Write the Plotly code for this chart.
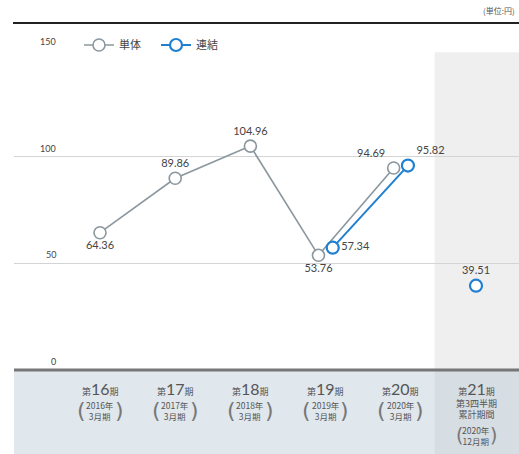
import plotly.graph_objects as go

# ---- data ----
periods = ["16", "17", "18", "19", "20", "21"]
years = ["2016年", "2017年", "2018年", "2019年", "2020年", "2020年"]
months = ["3月期", "3月期", "3月期", "3月期", "3月期", "12月期"]
extra_lines = [[], [], [], [], [], ["第3四半期", "累計期間"]]
single = [64.36, 89.86, 104.96, 53.76, 94.69, None]
consolidated = [None, None, None, 57.34, 95.82, None]
consolidated_q3 = [None, None, None, None, None, 39.51]
y_ticks = [0, 50, 100, 150]
series_names = ["単体", "連結"]
unit_label = "(単位:円)"

W, H = 519, 454
L, R, T, B = 14, 0, 50, 84
PW, PH = W - L - R, H - T - B
x0_px, step_px = 100, 75.2
xmin = -(x0_px - L) / step_px
xmax = xmin + PW / step_px
ymin, ymax = 0, 150

def py(p):  # pixel y -> paper
    return (H - B - p) / PH

def px(p):  # pixel x -> paper
    return (p - L) / PW

off = 0.095
xs_single, xs_cons = [], []
for i in range(len(periods)):
    both = single[i] is not None and consolidated[i] is not None
    xs_single.append(i - off if both else i)
    xs_cons.append(i + off if both else i)

FONT = "Lato, 'Noto Sans CJK JP', sans-serif"
JP = "'Noto Sans CJK JP', Lato, sans-serif"
gray = "#8b979e"
blue = "#1f7fd1"

def fmt(vals):
    return [f"{v:.2f}" if v is not None else "" for v in vals]

fig = go.Figure()
fig.add_trace(go.Scatter(
    x=xs_single, y=single, name=series_names[0], mode="lines+markers+text",
    line=dict(color=gray, width=1.6),
    marker=dict(size=12, color="white", line=dict(color=gray, width=1.6)),
    text=fmt(single),
    textposition=["bottom center", "top center", "top center", "bottom center", "top left", "top center"],
    textfont=dict(size=11, color="#444", family=FONT),
    cliponaxis=False, connectgaps=False,
))
fig.add_trace(go.Scatter(
    x=xs_cons, y=consolidated, name=series_names[1], mode="lines+markers+text",
    line=dict(color=blue, width=2),
    marker=dict(size=12, color="white", line=dict(color=blue, width=2.2)),
    text=fmt(consolidated),
    textposition=["top center", "top center", "top center", "middle right", "top right", "top center"],
    textfont=dict(size=11, color="#444", family=FONT),
    cliponaxis=False, connectgaps=False,
))
fig.add_trace(go.Scatter(
    x=xs_cons, y=consolidated_q3, name=series_names[1], mode="markers+text", showlegend=False,
    marker=dict(size=12, color="white", line=dict(color=blue, width=2.2)),
    text=fmt(consolidated_q3), textposition="top center",
    textfont=dict(size=11, color="#444", family=FONT),
    cliponaxis=False,
))

shapes = []
shapes.append(dict(type="rect", xref="x", yref="y", x0=4.45, x1=xmax, y0=0, y1=149,
                   fillcolor="#efefef", line=dict(width=0), layer="below"))
shapes.append(dict(type="rect", xref="paper", yref="paper", x0=0, x1=1, y0=py(454), y1=0,
                   fillcolor="#e0e7ed", line=dict(width=0), layer="below"))
shapes.append(dict(type="rect", xref="x", yref="paper", x0=4.45, x1=xmax, y0=py(454), y1=0,
                   fillcolor="#d6dde3", line=dict(width=0), layer="below"))
shapes.append(dict(type="line", xref="paper", yref="paper", x0=0, x1=1, y0=py(370), y1=py(370),
                   line=dict(color="#777", width=3)))
shapes.append(dict(type="line", xref="paper", yref="paper", x0=px(13), x1=1, y0=py(23), y1=py(23),
                   line=dict(color="#222", width=2)))

ann = []
for v in y_ticks:
    ann.append(dict(x=px(58), y=v, xref="paper", yref="y", text=str(v), showarrow=False,
                    xanchor="right", yanchor="bottom", yshift=1,
                    font=dict(size=9, color="#444", family=FONT)))
ann.append(dict(x=px(517), y=py(10), xref="paper", yref="paper", text=unit_label, showarrow=False,
                xanchor="right", yanchor="middle", font=dict(size=8, color="#555", family=JP)))

lab = "#555"
for i, p in enumerate(periods):
    lines = extra_lines[i]
    title = f"第<span style='font-size:16px;font-family:Lato'>{p}</span>期"
    block = "<br>".join([title] + lines)
    ycen = 388 + 6 * len(lines)
    ann.append(dict(x=i, y=py(ycen), xref="x", yref="paper", text=block,
                    showarrow=False, xanchor="center", yanchor="middle",
                    font=dict(size=9, color=lab, family=JP)))
    ybase = 410 if not lines else 435
    ann.append(dict(x=i, y=py(ybase), xref="x", yref="paper", text=f"{years[i]}<br>{months[i]}",
                    showarrow=False, xanchor="center", yanchor="middle",
                    font=dict(size=8.5, color=lab, family=JP)))
    pw = 19 if not lines else 17
    psize = 22 if not lines else 19
    for ch, sh in (("(", -pw), (")", pw)):
        ann.append(dict(x=i, y=py(ybase), xref="x", yref="paper", text=ch, showarrow=False,
                        xshift=sh, xanchor="center", yanchor="middle",
                        font=dict(size=psize, color="#777", family="DejaVu Sans")))

fig.update_layout(
    width=W, height=H, margin=dict(l=L, r=R, t=T, b=B),
    paper_bgcolor="white", plot_bgcolor="white",
    xaxis=dict(range=[xmin, xmax], showgrid=False, zeroline=False, showticklabels=False,
               showline=False, fixedrange=True),
    yaxis=dict(range=[ymin, ymax], tickvals=y_ticks, showgrid=True, gridcolor="#d4d4d4",
               gridwidth=1, zeroline=False, showticklabels=False, showline=False),
    shapes=shapes, annotations=ann,
    showlegend=True,
    legend=dict(orientation="h", x=px(79), y=py(45), xanchor="left", yanchor="middle",
                font=dict(size=11, color="#444", family=JP), bgcolor="rgba(0,0,0,0)",
                entrywidth=32, entrywidthmode="pixels", tracegroupgap=0),
)

fig.write_html("out.html")
